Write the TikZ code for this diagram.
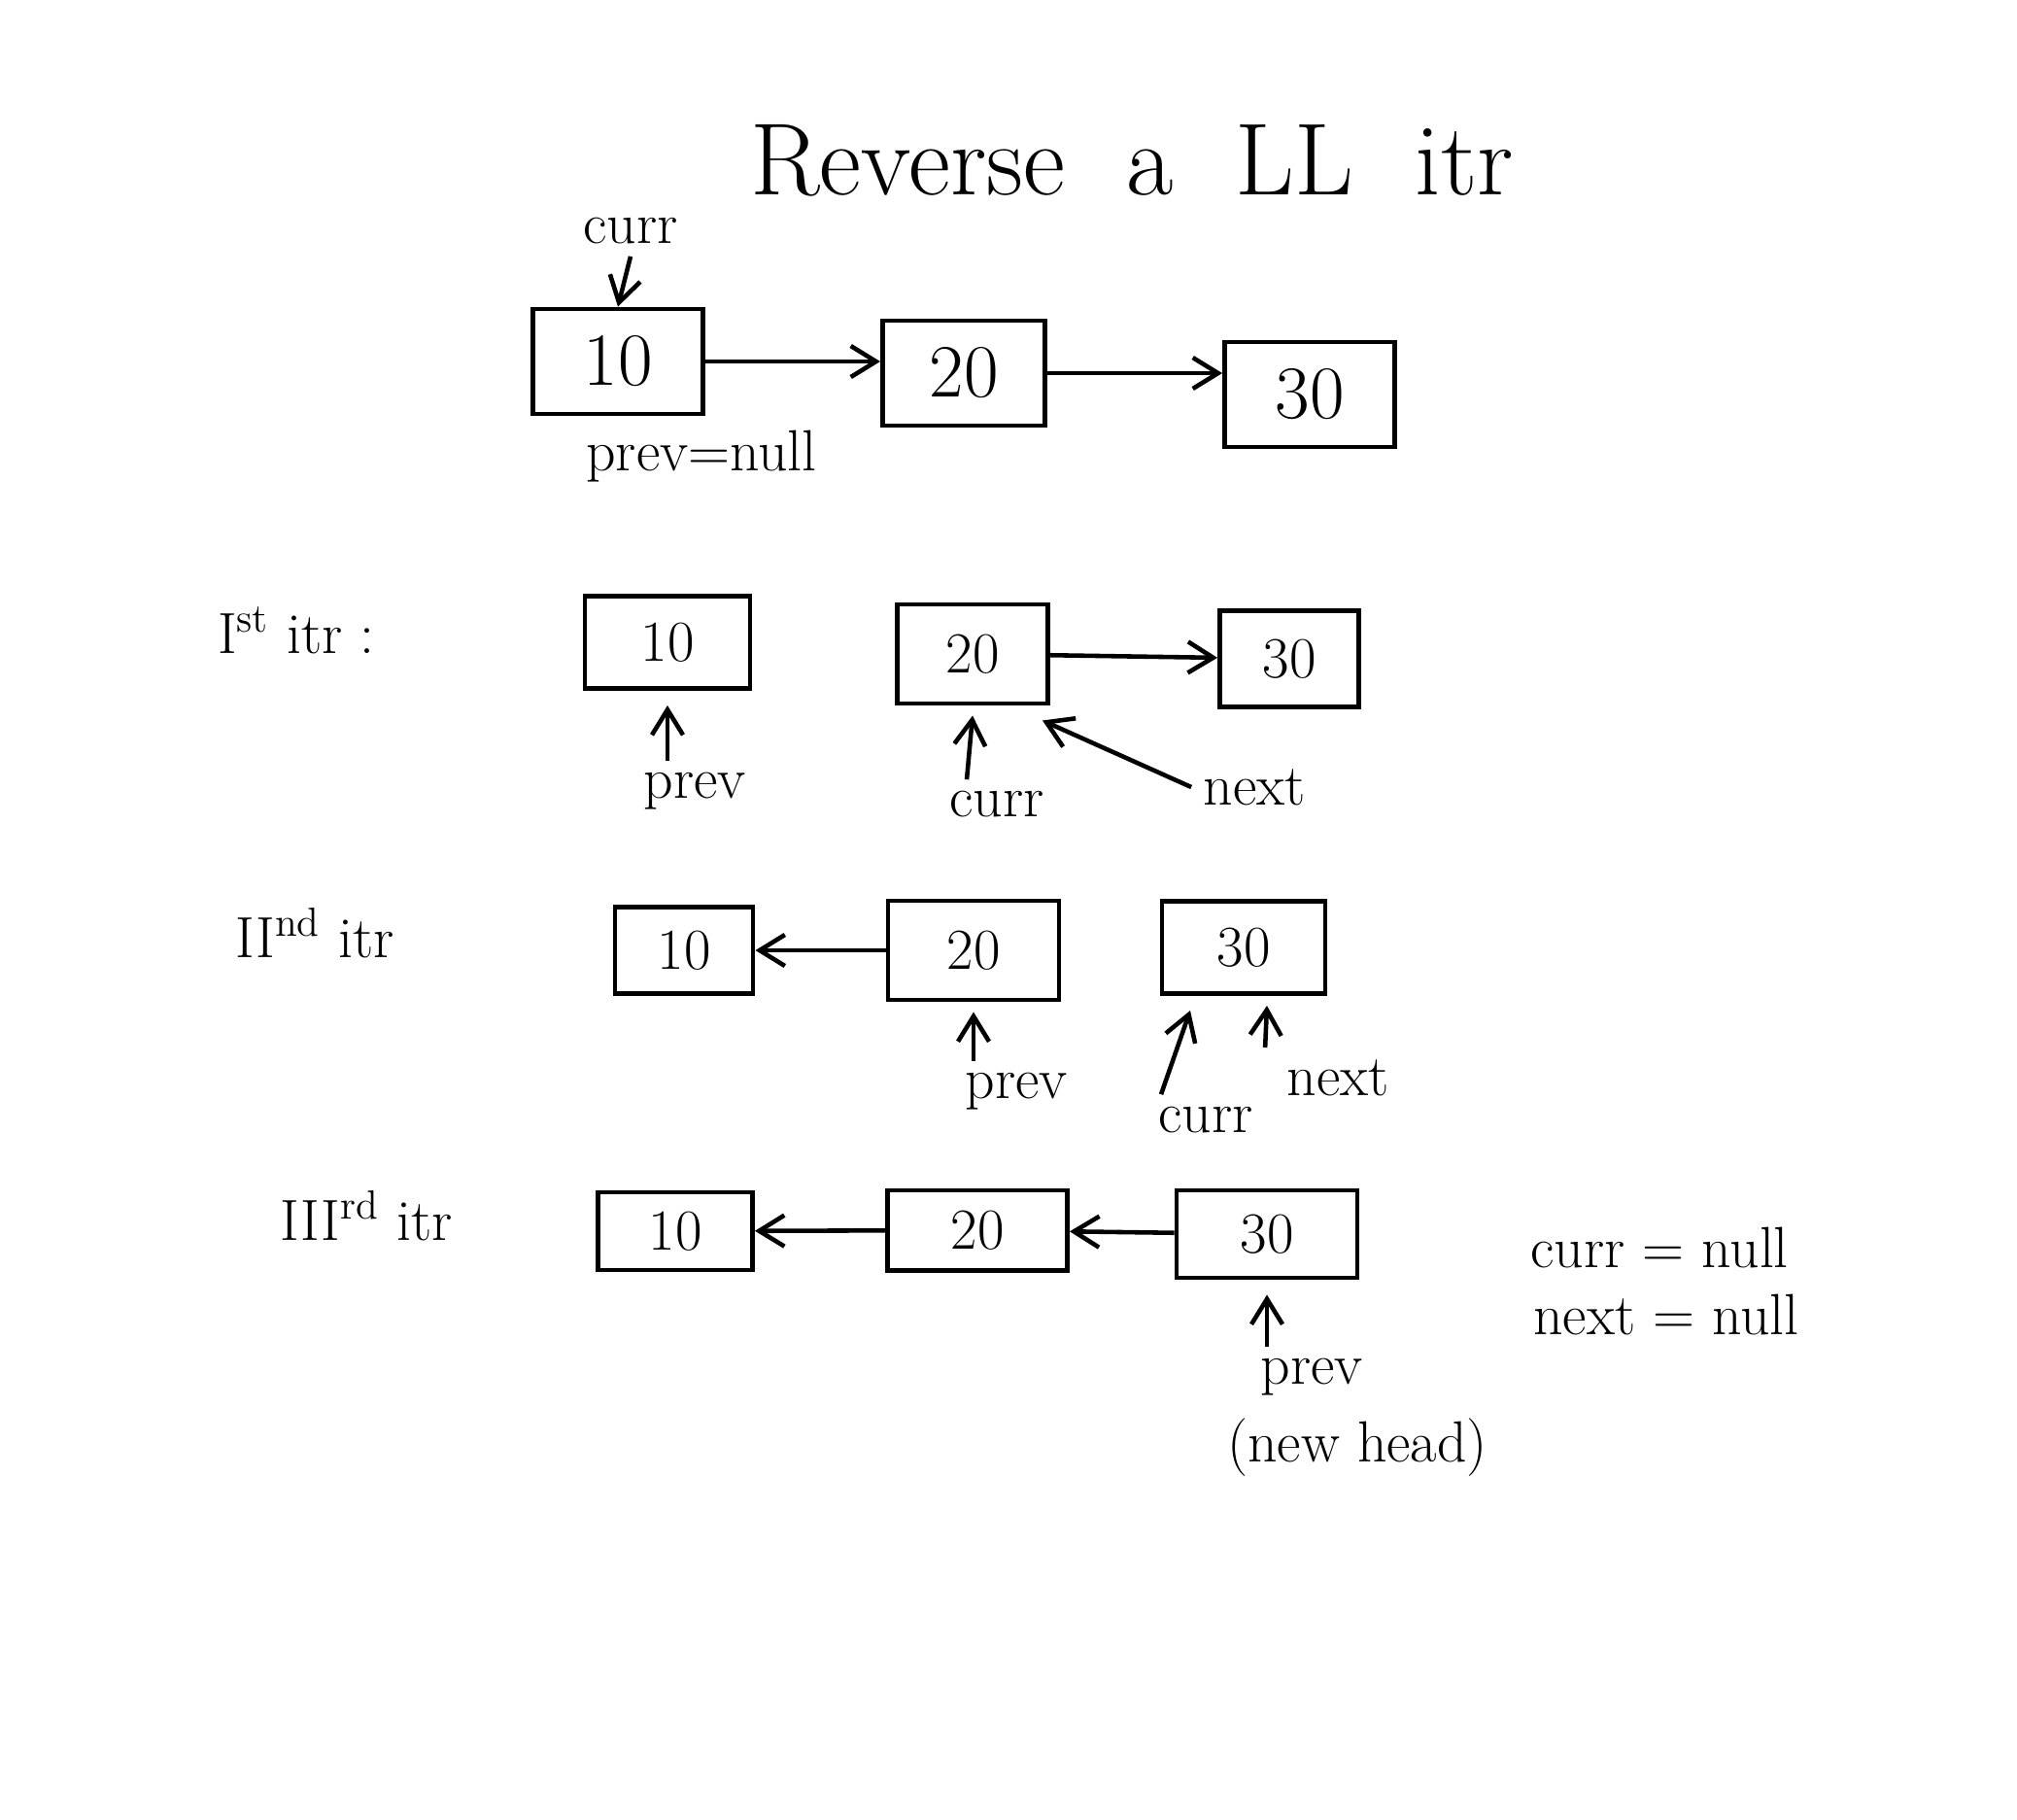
\documentclass[tikz,border=0pt]{standalone}
\usepackage{amsmath}
\usepackage{tikz}
\usetikzlibrary{arrows.meta}

\begin{document}
\begin{tikzpicture}[>={Straight Barb[length=2.6mm,width=3.2mm]},
    cell/.style={draw, line width=1.4pt, minimum width=1.6cm, minimum height=0.95cm, font=\fontsize{17}{20}\selectfont},
    bigcell/.style={cell, minimum width=1.75cm, minimum height=1.08cm, font=\fontsize{22}{26}\selectfont},
    lbl/.style={font=\fontsize{17}{20}\selectfont},
    link/.style={->, line width=1.3pt}]

        \useasboundingbox (0,0) rectangle (20.76,-18.72);

        % Title
        \node[font=\fontsize{30}{36}\selectfont] (title) at (11.65,-1.65) {Reverse \ a \ LL \ itr};

        % Start list
        \node[bigcell] (n10a) at (6.36,-3.72) {10};
        \node[bigcell, minimum width=1.67cm] (n20a) at (9.92,-3.84) {20};
        \node[bigcell] (n30a) at (13.48,-4.06) {30};
        \node[lbl] (curr0) at (6.49,-2.38) {curr};
        \node[lbl] (prev0) at (7.22,-4.70) {prev=null};

        \draw[link] (curr0.south) -- (n10a.north);
        \draw[link] (n10a.east) -- (n10a.east -| n20a.west);
        \draw[link] (n20a.east) -- (n20a.east -| n30a.west);

        % 1st iteration
        \node[lbl] (it1) at (3.05,-6.49) {I\textsuperscript{st} itr :};
        \node[cell, minimum width=1.7cm] (n10b) at (6.87,-6.61) {10};
        \node[cell, minimum width=1.55cm, minimum height=1.02cm] (n20b) at (10.01,-6.73) {20};
        \node[cell, minimum width=1.43cm, minimum height=0.99cm] (n30b) at (13.27,-6.78) {30};
        \node[lbl] (prev1) at (7.15,-8.14) {prev};
        \node[lbl] (curr1) at (10.26,-8.28) {curr};
        \node[lbl] (next1) at (12.91,-8.10) {next};

        \draw[link] (n20b) -- (n30b);
        \draw[link] (prev1.north -| n10b) -- ([yshift=-1.5mm]n10b.south);
        \draw[link] ([xshift=3mm]curr1.north west) -- ([yshift=-1mm]n20b.south);
        \draw[link] (next1.west) -- ([shift={(-0.8mm,-1.5mm)}]n20b.south east);

        % 2nd iteration
        \node[lbl] (it2) at (3.24,-9.60) {II\textsuperscript{nd} itr};
        \node[cell, minimum width=1.42cm, minimum height=0.89cm] (n10c) at (7.04,-9.78) {10};
        \node[cell, minimum width=1.76cm, minimum height=1.02cm] (n20c) at (10.02,-9.78) {20};
        \node[cell, minimum width=1.68cm] (n30c) at (12.80,-9.75) {30};
        \node[lbl] (prev2) at (10.46,-11.23) {prev};
        \node[lbl] (curr2) at (12.41,-11.52) {curr};
        \node[lbl] (next2) at (13.77,-11.09) {next};

        \draw[link] (n20c) -- (n10c);
        \draw[link] (prev2.north -| n20c) -- ([yshift=-1mm]n20c.south);
        \draw[link] ([xshift=1.5mm]curr2.north west) -- ([shift={(-5.5mm,-1.5mm)}]n30c.south);
        \draw[link] ([xshift=-1mm]next2.north west) -- ([shift={(2.4mm,-1mm)}]n30c.south);

        % 3rd iteration
        \node[lbl] (it3) at (3.77,-12.51) {III\textsuperscript{rd} itr};
        \node[cell, minimum width=1.59cm, minimum height=0.80cm] (n10d) at (6.95,-12.67) {10};
        \node[cell, minimum width=1.85cm, minimum height=0.82cm] (n20d) at (10.06,-12.66) {20};
        \node[cell, minimum width=1.86cm, minimum height=0.90cm] (n30d) at (13.04,-12.70) {30};
        \node[lbl] (prev3) at (13.50,-14.17) {prev};
        \node[lbl] (head3) at (13.97,-14.90) {(new head)};
        \node[lbl] (currnull) at (17.08,-12.84) {curr = null};
        \node[lbl] (nextnull) at (17.15,-13.53) {next = null};

        \draw[link] (n20d) -- (n10d);
        \draw[link] (n30d) -- (n20d);
        \draw[link] (prev3.north -| n30d) -- ([yshift=-1.5mm]n30d.south);

      \end{tikzpicture}
\end{document}
